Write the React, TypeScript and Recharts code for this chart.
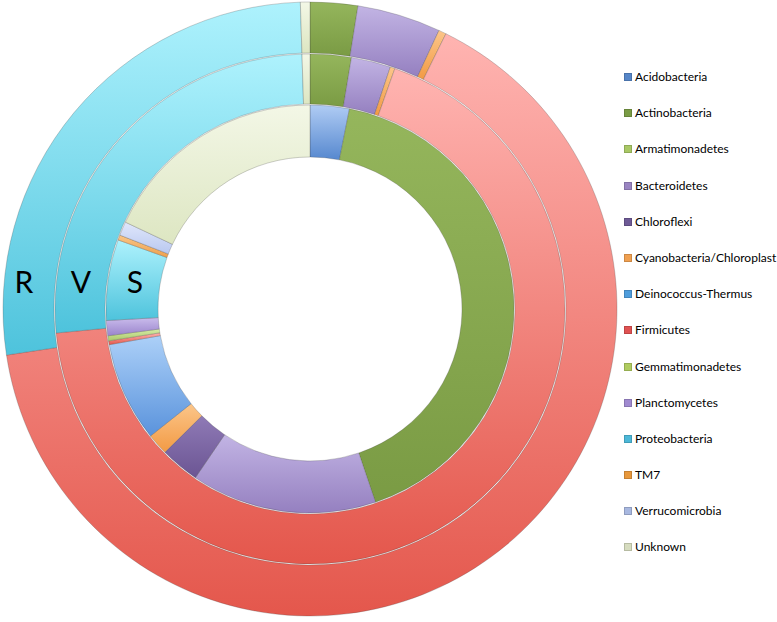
import React from "react";
import { Cell, Legend, Pie, PieChart } from "recharts";

const phyla = [
  "Acidobacteria",
  "Actinobacteria",
  "Armatimonadetes",
  "Bacteroidetes",
  "Chloroflexi",
  "Cyanobacteria/Chloroplast",
  "Deinococcus-Thermus",
  "Firmicutes",
  "Gemmatimonadetes",
  "Planctomycetes",
  "Proteobacteria",
  "TM7",
  "Verrucomicrobia",
  "Unknown",
];

// relative abundance (%) per sample, same order as phyla
const sampleS = [3.1, 41.7, 0, 14.7, 3.1, 1.7, 7.9, 0.3, 0.4, 1.2, 6.4, 0.4, 1.1, 18.0];
const sampleV = [0, 2.6, 0, 2.5, 0, 0.3, 0, 68.1, 0, 0, 26.0, 0, 0, 0.5];
const sampleR = [0, 2.5, 0, 4.4, 0, 0.4, 0, 65.3, 0, 0, 26.9, 0, 0, 0.5];

const ringLabels = ["R", "V", "S"];

// [light top, darker bottom, legend marker]
const palette: [string, string, string][] = [
  ["#b0ccf4", "#5688cf", "#5686c8"],
  ["#95b65c", "#7a9b44", "#7a9c45"],
  ["#d2e6a6", "#a9c865", "#a9c865"],
  ["#c2b4e4", "#9580c0", "#9a85c2"],
  ["#8f7ab6", "#6b5593", "#6e5a96"],
  ["#fcc68a", "#f29a44", "#f0a050"],
  ["#acd0f8", "#5a93dc", "#4f9ddc"],
  ["#ffb4b1", "#e4574c", "#e05252"],
  ["#d6eca8", "#aac868", "#b0cc60"],
  ["#cabcec", "#9a84cc", "#a08ad0"],
  ["#aef2fd", "#4ec3dc", "#4cb8d8"],
  ["#f9c586", "#eea04e", "#e8983c"],
  ["#e0e7fb", "#b9c8f0", "#a8b8e0"],
  ["#f3f7e6", "#dde6c2", "#d6dcbf"],
];

const toRows = (vals: number[]) => phyla.map((name, i) => ({ name, value: vals[i] }));

const rings = [
  { key: "S", data: toRows(sampleS), inner: 152, outer: 204 },
  { key: "V", data: toRows(sampleV), inner: 205, outer: 255 },
  { key: "R", data: toRows(sampleR), inner: 256, outer: 307 },
];

function LegendList() {
  return (
    <div style={{ fontFamily: "Lato, sans-serif", fontSize: 12, color: "#000" }}>
      {phyla.map((p, i) => (
        <div key={p} style={{ height: 36.2, display: "flex", alignItems: "flex-start" }}>
          <span
            style={{
              display: "inline-block",
              width: 6,
              height: 6,
              marginTop: 4,
              marginRight: 3,
              background: palette[i][2],
              border: "0.5px solid rgba(0,0,0,0.15)",
            }}
          />
          <span style={{ whiteSpace: "nowrap" }}>{p}</span>
        </div>
      ))}
    </div>
  );
}

export default function App() {
  return (
    <div style={{ position: "absolute", left: 0, top: 0, width: 777, height: 622, background: "#fff", overflow: "hidden" }}>
      <PieChart width={777} height={622} margin={{ top: 0, right: 0, bottom: 0, left: 0 }}>
        <defs>
          {palette.map((c, i) => (
            <linearGradient key={i} id={`g${i}`} x1="0" y1="0" x2="0" y2="1">
              <stop offset="0%" stopColor={c[0]} />
              <stop offset="100%" stopColor={c[1]} />
            </linearGradient>
          ))}
        </defs>
        {rings.map((r) => (
          <Pie
            key={r.key}
            data={r.data}
            dataKey="value"
            nameKey="name"
            cx={310}
            cy={309}
            innerRadius={r.inner}
            outerRadius={r.outer}
            startAngle={90}
            endAngle={-270}
            stroke="rgba(60,60,60,0.35)"
            strokeWidth={0.7}
            isAnimationActive={false}
            legendType="none"
          >
            {r.data.map((d, i) => (
              <Cell key={d.name} fill={`url(#g${i})`} />
            ))}
          </Pie>
        ))}
        <Legend
          layout="vertical"
          align="right"
          verticalAlign="top"
          wrapperStyle={{ left: 624, top: 69, width: 153 }}
          content={() => <LegendList />}
        />
      </PieChart>
      {ringLabels.map((l, i) => (
        <div
          key={l}
          style={{
            position: "absolute",
            left: [24, 81, 135][i] - 15,
            top: 263,
            width: 30,
            textAlign: "center",
            fontFamily: "Lato, sans-serif",
            fontSize: 30,
            color: "#000",
          }}
        >
          {l}
        </div>
      ))}
    </div>
  );
}
